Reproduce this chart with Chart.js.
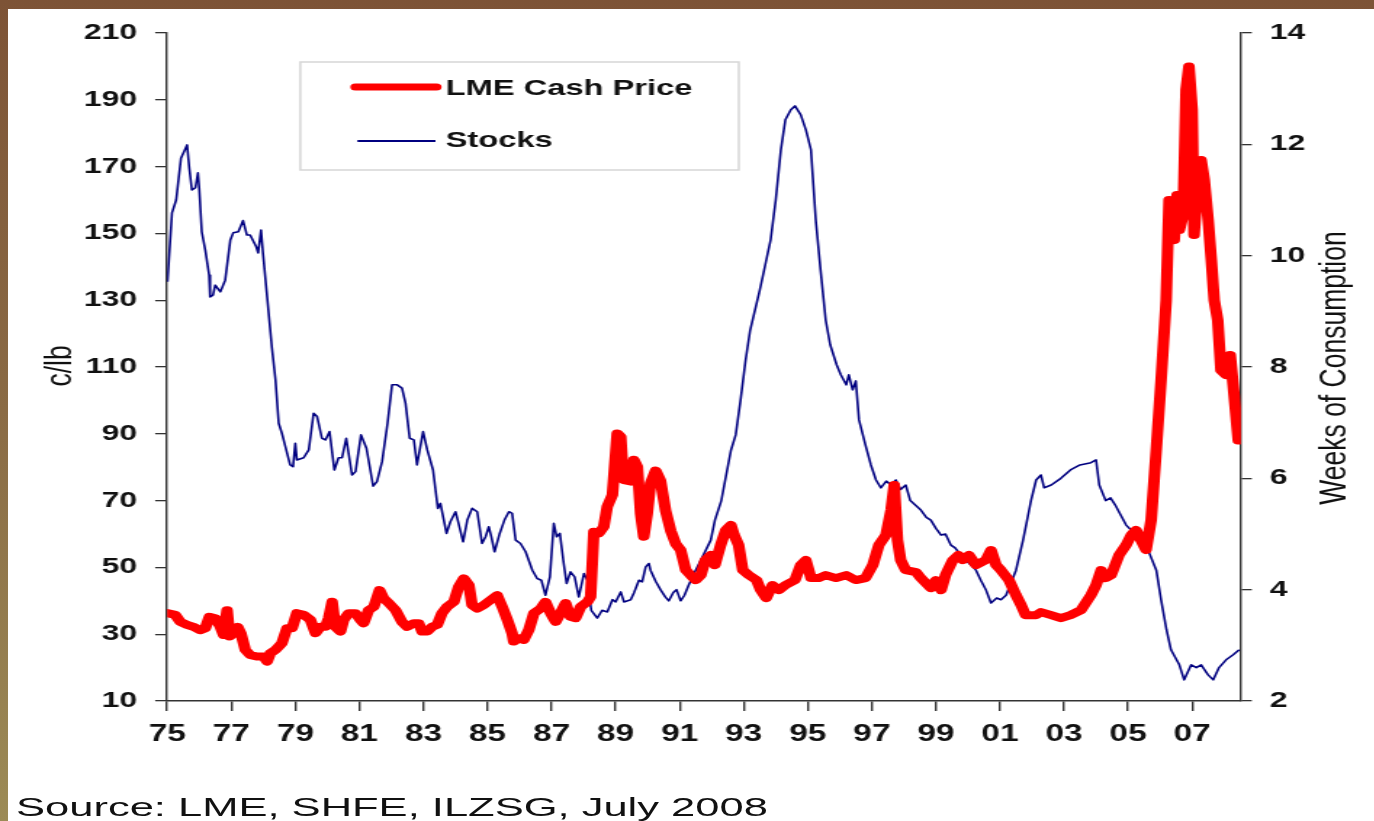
<!DOCTYPE html>
<html><head><meta charset="utf-8">
<script src="https://cdn.jsdelivr.net/npm/chart.js@4.4.0/dist/chart.umd.min.js"></script>
<style>
html,body{margin:0;padding:0;width:1374px;height:821px;overflow:hidden;}
body{background:linear-gradient(to bottom,#7d5336 0%,#8a6b45 50%,#9c8b56 100%);position:relative;}
#page{position:absolute;left:8px;top:9px;right:0;bottom:0;background:#fff;}
#wrap{position:absolute;left:0;top:0;width:947.6px;height:821px;transform:scaleX(1.45);transform-origin:0 0;}
#source{position:absolute;left:16px;top:795px;font:25px/25px "Liberation Sans",Arial,sans-serif;color:#111;transform:scaleX(1.74);transform-origin:0 0;white-space:nowrap;}
</style></head>
<body><div id="page"></div><div id="wrap"><canvas id="c"></canvas></div><div id="source">Source: LME, SHFE, ILZSG, July 2008</div>
<script>
const S = 1.45;
// LME Cash Price (c/lb) – left axis
const priceYears = [1975.0,1975.25,1975.41,1975.62,1975.82,1976.03,1976.19,1976.32,1976.5,1976.66,1976.76,1976.87,1976.95,1977.07,1977.2,1977.3,1977.44,1977.59,1977.8,1978.01,1978.12,1978.22,1978.38,1978.58,1978.74,1978.9,1979.05,1979.26,1979.47,1979.63,1979.78,1979.94,1980.04,1980.15,1980.25,1980.41,1980.51,1980.67,1980.88,1981.03,1981.13,1981.29,1981.45,1981.63,1981.76,1981.92,1982.13,1982.33,1982.49,1982.7,1982.85,1982.96,1983.12,1983.27,1983.43,1983.58,1983.74,1983.95,1984.1,1984.26,1984.42,1984.52,1984.68,1984.88,1985.09,1985.3,1985.46,1985.62,1985.77,1985.82,1985.98,1986.13,1986.29,1986.45,1986.66,1986.81,1986.97,1987.13,1987.28,1987.44,1987.59,1987.75,1987.91,1988.12,1988.22,1988.32,1988.48,1988.63,1988.74,1988.9,1989.05,1989.16,1989.24,1989.47,1989.57,1989.68,1989.78,1989.88,1989.99,1990.09,1990.25,1990.4,1990.56,1990.72,1990.88,1991.03,1991.19,1991.34,1991.5,1991.66,1991.8,1991.97,1992.1,1992.28,1992.44,1992.6,1992.7,1992.84,1992.97,1993.16,1993.4,1993.53,1993.7,1993.9,1994.1,1994.3,1994.6,1994.78,1994.94,1995.1,1995.34,1995.56,1995.88,1996.2,1996.5,1996.8,1997.03,1997.22,1997.44,1997.6,1997.7,1997.8,1997.9,1998.06,1998.38,1998.53,1998.84,1999.0,1999.16,1999.3,1999.53,1999.7,1999.84,2000.03,2000.25,2000.56,2000.72,2000.88,2001.03,2001.28,2001.5,2001.66,2001.8,2002.13,2002.28,2002.6,2002.9,2003.2,2003.53,2003.84,2004.0,2004.16,2004.3,2004.47,2004.72,2004.94,2005.1,2005.25,2005.4,2005.56,2005.72,2005.88,2006.03,2006.19,2006.28,2006.34,2006.44,2006.53,2006.6,2006.72,2006.81,2006.9,2007.0,2007.06,2007.16,2007.28,2007.38,2007.5,2007.6,2007.69,2007.8,2007.9,2008.06,2008.19,2008.28,2008.44];
const priceValues = [36.3,35.8,33.7,32.8,32.2,31.2,31.8,35.2,34.8,32.2,29.8,37.2,29.3,30.3,32.2,30.3,25.3,23.8,23.3,23.3,21.8,24.3,25.3,27.3,31.8,31.8,36.3,35.8,34.3,30.3,32.2,32.2,34.8,39.7,32.2,30.8,34.3,36.3,36.3,34.3,33.3,37.2,38.2,43.2,40.7,39.3,37.2,33.7,32.2,33.3,33.3,30.8,30.8,32.2,32.8,36.3,38.2,39.7,44.2,46.7,44.7,38.7,37.7,38.7,40.2,41.7,38.2,34.3,30.3,27.8,28.8,28.3,31.3,36.3,37.7,39.7,36.3,33.7,36.3,39.3,35.2,34.8,38.2,39.7,41.2,60.7,60.2,62.2,68.2,71.7,90.1,89.1,76.2,75.7,82.2,80.1,66.2,59.2,66.2,75.2,79,76,67,61,57,55.2,49.2,47.7,46.2,47.7,52.2,53.7,50.7,56.7,61.2,62.7,59.7,56.7,49.2,47.7,46.2,43.2,40.8,44.7,43.2,44.7,46.2,50.7,52.2,46.8,46.8,47.7,46.8,47.7,46.2,46.8,50.7,56.7,59.7,67.2,74.7,58.2,52.2,49.2,48.6,46.8,43.8,46.2,43.2,47.7,52.2,53.7,52.2,53.7,50.7,52.2,55.2,50.7,49.2,46.2,41.7,38.7,35.7,35.7,36.6,35.7,34.8,35.7,37.2,41.7,44.7,49.2,46.8,47.7,53.7,56.7,59.7,61.2,58.2,55.2,64.2,85.2,106,130,160,151,148,161.5,151,155.5,193,200,187,149.5,163,172,166,154,142,130,124,109,107.6,113.6,104.6,88];
// Stocks (weeks of consumption) – right axis
const stockYears = [1975.01,1975.15,1975.28,1975.43,1975.62,1975.69,1975.77,1975.88,1975.96,1976.0,1976.08,1976.19,1976.31,1976.34,1976.43,1976.5,1976.66,1976.81,1976.97,1977.06,1977.22,1977.37,1977.49,1977.59,1977.78,1977.84,1977.93,1977.99,1978.12,1978.27,1978.38,1978.48,1978.58,1978.69,1978.84,1978.93,1979.0,1979.05,1979.26,1979.42,1979.57,1979.68,1979.83,1979.94,1980.07,1980.22,1980.35,1980.46,1980.59,1980.77,1980.88,1981.05,1981.22,1981.43,1981.55,1981.71,1981.88,1982.02,1982.18,1982.33,1982.44,1982.57,1982.7,1982.8,1982.99,1983.12,1983.3,1983.45,1983.53,1983.72,1983.84,1984.0,1984.07,1984.24,1984.37,1984.52,1984.68,1984.83,1984.94,1985.04,1985.12,1985.22,1985.38,1985.53,1985.67,1985.77,1985.88,1986.03,1986.19,1986.4,1986.55,1986.68,1986.81,1986.95,1987.07,1987.16,1987.26,1987.38,1987.47,1987.59,1987.72,1987.85,1988.01,1988.12,1988.24,1988.43,1988.58,1988.74,1988.9,1989.0,1989.16,1989.26,1989.47,1989.57,1989.73,1989.83,1989.94,1990.04,1990.09,1990.25,1990.4,1990.55,1990.66,1990.8,1990.9,1991.03,1991.15,1991.28,1991.5,1991.66,1991.97,1992.1,1992.3,1992.6,1992.75,1992.9,1993.06,1993.2,1993.5,1993.84,1994.0,1994.16,1994.3,1994.47,1994.6,1994.78,1994.94,1995.1,1995.25,1995.4,1995.56,1995.7,1995.9,1996.03,1996.2,1996.28,1996.4,1996.5,1996.6,1996.8,1996.97,1997.13,1997.28,1997.45,1997.6,1997.75,1997.9,1998.06,1998.2,1998.4,1998.53,1998.7,1998.84,1999.0,1999.16,1999.3,1999.47,1999.6,1999.78,1999.9,2000.1,2000.25,2000.4,2000.56,2000.72,2000.9,2001.03,2001.19,2001.5,2001.72,2001.97,2002.13,2002.28,2002.38,2002.6,2002.9,2003.2,2003.5,2003.84,2004.0,2004.1,2004.3,2004.45,2004.6,2004.94,2005.25,2005.56,2005.88,2006.03,2006.2,2006.34,2006.6,2006.75,2006.97,2007.13,2007.28,2007.5,2007.66,2007.84,2008.06,2008.28,2008.47];
const stockValues = [9.53,10.77,11.0,11.75,11.99,11.57,11.18,11.22,11.49,11.22,10.43,10.1,9.65,9.26,9.29,9.47,9.35,9.56,10.28,10.41,10.43,10.63,10.37,10.37,10.16,10.05,10.46,10.05,9.26,8.34,7.77,6.99,6.81,6.57,6.24,6.21,6.63,6.33,6.37,6.51,7.17,7.11,6.72,6.69,6.84,6.15,6.37,6.37,6.72,6.06,6.12,6.78,6.54,5.86,5.94,6.3,6.99,7.68,7.68,7.62,7.35,6.72,6.69,6.24,6.84,6.51,6.15,5.46,5.55,5.01,5.22,5.4,5.25,4.86,5.25,5.46,5.4,4.83,4.95,5.13,4.95,4.68,5.01,5.25,5.4,5.37,4.89,4.83,4.68,4.35,4.2,4.17,3.9,4.23,5.19,4.95,5.01,4.47,4.11,4.32,4.23,3.87,4.29,4.17,3.63,3.49,3.63,3.6,3.82,3.78,3.96,3.78,3.82,3.94,4.17,4.14,4.41,4.47,4.35,4.15,4.0,3.87,3.8,3.95,4.0,3.8,3.9,4.08,4.35,4.53,4.89,5.25,5.6,6.5,6.78,7.4,8.13,8.66,9.38,10.28,11.0,11.9,12.44,12.62,12.69,12.53,12.26,11.9,10.64,9.74,8.84,8.4,8.04,7.86,7.68,7.86,7.59,7.75,7.05,6.6,6.24,5.97,5.83,5.95,5.88,5.97,5.8,5.88,5.6,5.5,5.43,5.3,5.25,5.1,4.98,5.0,4.8,4.75,4.62,4.55,4.44,4.35,4.17,4.0,3.76,3.85,3.82,3.9,4.35,4.89,5.6,5.97,6.06,5.83,5.88,6.0,6.15,6.24,6.28,6.33,5.88,5.6,5.65,5.52,5.16,4.98,4.8,4.35,3.82,3.28,2.92,2.65,2.38,2.65,2.6,2.65,2.47,2.38,2.6,2.74,2.83,2.92];
const xTickYears = [1975,1977,1979,1981,1983,1985,1987,1989,1991,1993,1995,1997,1999,2001,2003,2005,2007];
const seriesLabels = ['LME Cash Price','Stocks'];
const axisTitles = ['c/lb','Weeks of Consumption'];

const FONT = '"Liberation Sans", Arial, Helvetica, sans-serif';

const decor = {
  id: 'decor',
  afterDraw(chart) {
    const ctx = chart.ctx;
    ctx.save();
    ctx.strokeStyle = '#d6d6d6';
    ctx.lineWidth = 1.5;
    ctx.strokeRect(300 / S, 62, (738 - 300) / S, 108);
    const items = [
      { ds: 0, x1: 355 / S, x2: 436 / S, y: 87, ty: 95 },
      { ds: 1, x1: 357 / S, x2: 435 / S, y: 141, ty: 147 }
    ];
    ctx.font = 'bold 22.5px ' + FONT;
    ctx.textAlign = 'left';
    ctx.textBaseline = 'alphabetic';
    items.forEach(it => {
      const d = chart.data.datasets[it.ds];
      ctx.strokeStyle = d.borderColor;
      ctx.lineWidth = it.ds === 0 ? 7 : 1.8;
      ctx.lineCap = it.ds === 0 ? 'round' : 'butt';
      ctx.beginPath();
      ctx.moveTo(it.x1, it.y);
      ctx.lineTo(it.x2, it.y);
      ctx.stroke();
      ctx.fillStyle = '#111';
      ctx.fillText(d.label, 445 / S, it.ty);
    });
    ctx.font = '26.5px ' + FONT;
    ctx.fillStyle = '#111';
    ctx.textAlign = 'center';
    ctx.textBaseline = 'middle';
    ctx.save();
    ctx.translate(61 / S, 366);
    ctx.rotate(-Math.PI / 2);
    ctx.fillText(axisTitles[0], 0, 0);
    ctx.restore();
    ctx.save();
    ctx.translate(1334 / S, 368);
    ctx.rotate(-Math.PI / 2);
    ctx.fillText(axisTitles[1], 0, 0);
    ctx.restore();
    ctx.restore();
  }
};

const tickFont = { family: FONT, size: 22, weight: 'bold' };

new Chart(document.getElementById('c'), {
  type: 'line',
  data: {
    datasets: [
      {
        label: seriesLabels[0],
        data: priceYears.map((x, i) => ({ x: x, y: priceValues[i] })),
        borderColor: '#ff0000',
        borderWidth: 8,
        borderJoinStyle: 'round',
        borderCapStyle: 'round',
        pointRadius: 0,
        tension: 0,
        yAxisID: 'y'
      },
      {
        label: seriesLabels[1],
        data: stockYears.map((x, i) => ({ x: x, y: stockValues[i] })),
        borderColor: '#000080',
        borderWidth: 1.6,
        borderJoinStyle: 'round',
        pointRadius: 0,
        tension: 0,
        yAxisID: 'y1'
      }
    ]
  },
  options: {
    responsive: true,
    maintainAspectRatio: false,
    animation: false,
    layout: { padding: { top: 33, left: 0, right: 0, bottom: 0 } },
    plugins: { legend: { display: false }, tooltip: { enabled: false } },
    scales: {
      x: {
        type: 'linear',
        min: 1975,
        max: 2008.52,
        afterBuildTicks: s => { s.ticks = xTickYears.map(v => ({ value: v })); },
        afterFit: s => { s.height = 120; },
        grid: { drawOnChartArea: false, drawTicks: true, tickLength: 10, color: '#333', lineWidth: 1.4 },
        border: { display: true, color: '#333', width: 1.5 },
        ticks: {
          autoSkip: false, maxRotation: 0, minRotation: 0, padding: 10, color: '#111',
          font: { family: FONT, size: 23, weight: 'bold' },
          callback: v => String(Math.round(v) % 100).padStart(2, '0')
        }
      },
      y: {
        position: 'left',
        min: 10, max: 210,
        afterFit: s => { s.width = 167 / S; },
        grid: { drawOnChartArea: false, drawTicks: true, tickLength: 12 / S, color: '#333', lineWidth: 1.3 },
        border: { display: true, color: '#333', width: 1.4 },
        ticks: { stepSize: 20, padding: 12.4, color: '#111', font: tickFont }
      },
      y1: {
        position: 'right',
        min: 2, max: 14,
        afterFit: s => { s.width = s.chart.width - 1239.5 / S; },
        grid: { drawOnChartArea: false, drawTicks: true, tickLength: 11 / S, color: '#333', lineWidth: 1.3 },
        border: { display: true, color: '#333', width: 1.4 },
        ticks: { stepSize: 2, padding: 12.4, color: '#111', font: tickFont }
      }
    }
  },
  plugins: [decor]
});
</script></body></html>
